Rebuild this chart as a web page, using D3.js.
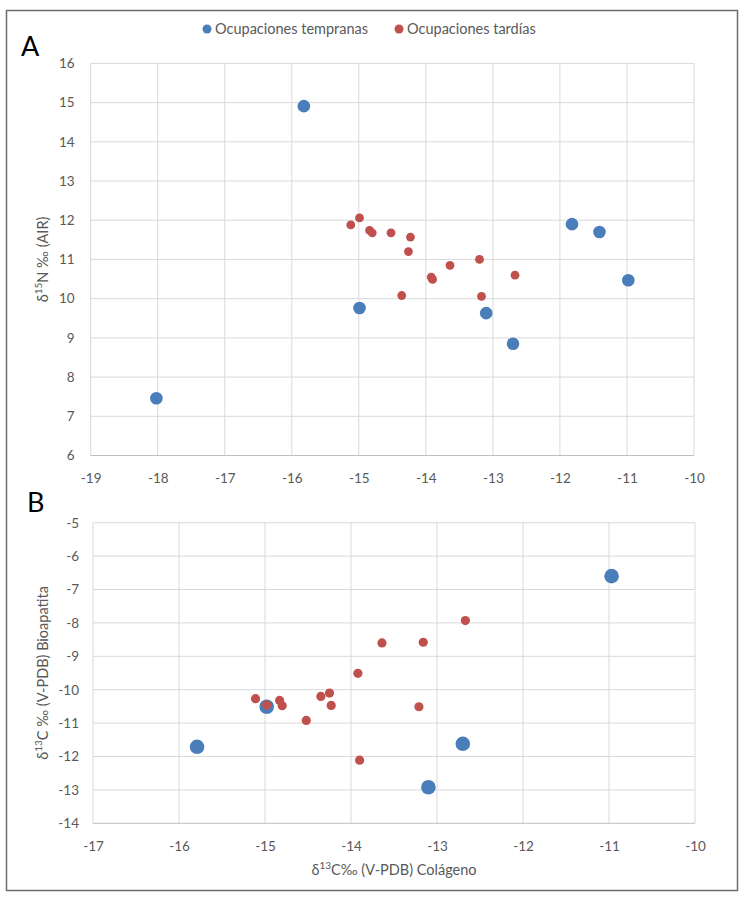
<!doctype html>
<html lang="es">
  <head>
    <meta charset="utf-8">
    <title>Isótopos - ocupaciones</title>
    <style>
      body { margin: 0; background: #fff; }
      svg text { font-family: Lato, "Noto Sans", sans-serif; }
    </style>
  </head>
  <body>
    <script src="https://cdn.jsdelivr.net/npm/d3@7"></script>
    <script>

var seriesNames = ["Ocupaciones tempranas", "Ocupaciones tardías"];
var seriesColors = ["#4a7ebb", "#c0504d"];

// Panel A: colágeno d13C vs d15N
var earlyColA = [-18.02, -15.82, -14.99, -13.10, -12.70, -11.82, -11.41, -10.98];
var earlyN    = [7.46, 14.91, 9.76, 9.63, 8.85, 11.90, 11.70, 10.47];
var lateColA  = [-15.12, -14.99, -14.84, -14.80, -14.52, -14.23, -14.26, -13.64, -13.20, -13.92, -13.90, -12.67, -14.36, -13.17];
var lateN     = [11.88, 12.06, 11.74, 11.68, 11.68, 11.57, 11.20, 10.85, 11.00, 10.55, 10.49, 10.60, 10.08, 10.06];

// Panel B: colágeno d13C vs bioapatita d13C
var earlyColB = [-15.79, -14.98, -13.10, -12.70, -10.97];
var earlyApa  = [-11.71, -10.51, -12.92, -11.62, -6.60];
var lateColB  = [-15.11, -14.98, -14.83, -14.80, -14.52, -14.35, -14.25, -14.23, -13.92, -13.64, -13.16, -13.21, -12.67, -13.90];
var lateApa   = [-10.27, -10.46, -10.32, -10.48, -10.92, -10.20, -10.10, -10.47, -9.51, -8.60, -8.58, -10.51, -7.93, -12.11];

var xTicksA = [-19, -18, -17, -16, -15, -14, -13, -12, -11, -10];
var yTicksA = [6, 7, 8, 9, 10, 11, 12, 13, 14, 15, 16];
var xTicksB = [-17, -16, -15, -14, -13, -12, -11, -10];
var yTicksB = [-14, -13, -12, -11, -10, -9, -8, -7, -6, -5];

var svg = d3.select("body")
    .append("svg")
    .attr("width", 744)
    .attr("height", 900);

svg.append("rect")
    .attr("x", 6.5).attr("y", 10.5)
    .attr("width", 731).attr("height", 880)
    .attr("fill", "#fff")
    .attr("stroke", "#6e6e6e")
    .attr("stroke-width", 1.5);

function zip(xs, ys){ return xs.map(function(d, i){ return {x: d, y: ys[i]}; }); }

function panel(opt){
    var x = d3.scaleLinear().domain(d3.extent(opt.xTicks)).range([opt.left, opt.right]);
    var y = d3.scaleLinear().domain(d3.extent(opt.yTicks)).range([opt.bottom, opt.top]);

    // gridlines
    var g = svg.append("g");
    g.selectAll(".vg").data(opt.xTicks).enter().append("line")
        .attr("x1", function(d){ return x(d); }).attr("x2", function(d){ return x(d); })
        .attr("y1", opt.top).attr("y2", opt.bottom)
        .attr("stroke", "#d9d9d9");
    g.selectAll(".hg").data(opt.yTicks).enter().append("line")
        .attr("x1", opt.left).attr("x2", opt.right)
        .attr("y1", function(d){ return y(d); }).attr("y2", function(d){ return y(d); })
        .attr("stroke", function(d){ return d === opt.yTicks[0] ? "#bfbfbf" : "#d9d9d9"; });

    var xAxis = svg.append("g")
        .attr("transform", "translate(0," + opt.bottom + ")")
        .call(d3.axisBottom(x).tickValues(opt.xTicks).tickSize(0).tickPadding(18)
              .tickFormat(function(d){ return String(d); }));
    var yAxis = svg.append("g")
        .attr("transform", "translate(" + opt.left + ",0)")
        .call(d3.axisLeft(y).tickValues(opt.yTicks).tickSize(0).tickPadding(opt.yPad)
              .tickFormat(function(d){ return String(d); }));
    [xAxis, yAxis].forEach(function(a){
        a.select(".domain").remove();
        a.selectAll("text").attr("fill", "#595959").style("font-size", "13.5px");
    });

    // points: early first, late on top
    opt.series.forEach(function(s, i){
        svg.append("g").selectAll("circle")
            .data(s.pts).enter().append("circle")
            .attr("cx", function(d){ return x(d.x); })
            .attr("cy", function(d){ return y(d.y); })
            .attr("r", s.r)
            .attr("fill", seriesColors[i]);
    });

    // panel letter
    svg.append("text").attr("x", opt.letterX).attr("y", opt.letterY)
        .style("font-size", "27px").attr("fill", "#000").text(opt.letter);

    // y title
    var yt = svg.append("text")
        .attr("transform", "translate(" + opt.yTitleX + "," + ((opt.top + opt.bottom) / 2) + ") rotate(-90)")
        .attr("text-anchor", "middle")
        .attr("fill", "#595959")
        .style("font-size", "14.5px");
    opt.yTitle.forEach(function(p){
        yt.append("tspan").attr("baseline-shift", p.sup ? "super" : null)
            .style("font-size", p.sup ? "10px" : null).text(p.t);
    });
    return x;
}

panel({
    left: 90.7, right: 694, top: 63.4, bottom: 455.5,
    xTicks: xTicksA, yTicks: yTicksA, yPad: 16,
    series: [{pts: zip(earlyColA, earlyN), r: 6.3}, {pts: zip(lateColA, lateN), r: 4.4}],
    letter: "A", letterX: 21, letterY: 56,
    yTitleX: 48,
    yTitle: [{t: "δ"}, {t: "15", sup: true}, {t: "N ‰ (AIR)"}]
});

panel({
    left: 93, right: 695, top: 522.7, bottom: 823.3,
    xTicks: xTicksB, yTicks: yTicksB, yPad: 14,
    series: [{pts: zip(earlyColB, earlyApa), r: 7.3}, {pts: zip(lateColB, lateApa), r: 4.6}],
    letter: "B", letterX: 27, letterY: 512,
    yTitleX: 48,
    yTitle: [{t: "δ"}, {t: "13", sup: true}, {t: "C ‰ (V-PDB) Bioapatita"}]
});

// x title of panel B
var xt = svg.append("text")
    .attr("x", (93 + 695) / 2).attr("y", 875)
    .attr("text-anchor", "middle")
    .attr("fill", "#595959")
    .style("font-size", "14.5px");
[{t: "δ"}, {t: "13", sup: true}, {t: "C‰ (V-PDB) Colágeno"}].forEach(function(p){
    xt.append("tspan").attr("baseline-shift", p.sup ? "super" : null)
        .style("font-size", p.sup ? "10px" : null).text(p.t);
});

// legend
var legX = [207, 399];
var leg = svg.append("g").selectAll("g")
    .data(seriesNames).enter().append("g")
    .attr("transform", function(d, i){ return "translate(" + legX[i] + ",29)"; });
leg.append("circle").attr("r", 4.5).attr("fill", function(d, i){ return seriesColors[i]; });
leg.append("text").attr("x", 8).attr("dy", "0.35em")
    .attr("fill", "#595959").style("font-size", "14.5px")
    .text(function(d){ return d; });

    </script>
  </body>
</html>
